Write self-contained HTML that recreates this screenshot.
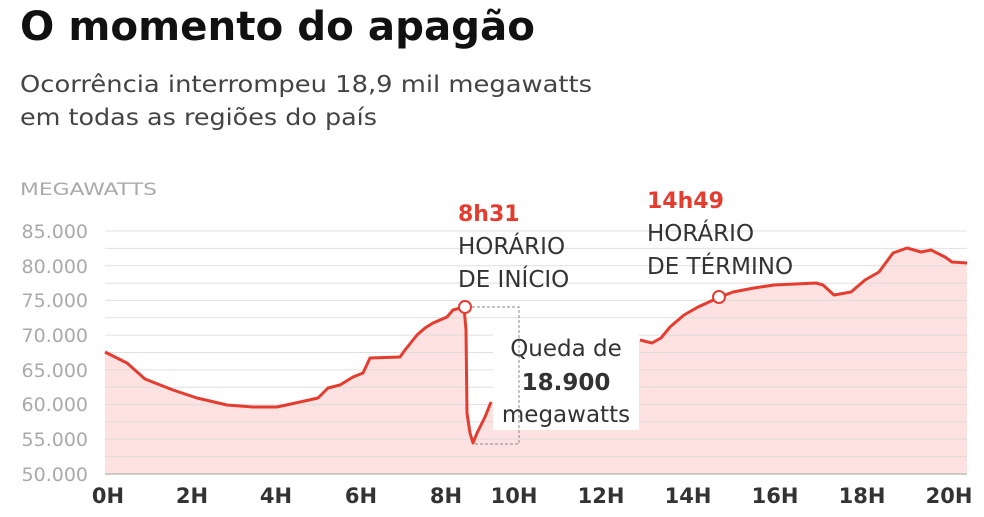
<!DOCTYPE html>
<html><head><meta charset="utf-8"><style>
body{margin:0;background:#fff;width:984px;height:512px;overflow:hidden}
</style></head><body>
<svg width="984" height="512" xmlns="http://www.w3.org/2000/svg" font-family="DejaVu Sans, Liberation Sans, sans-serif">
<text x="20" y="40" font-size="40" font-weight="bold" fill="#111" textLength="515" lengthAdjust="spacingAndGlyphs">O momento do apagão</text>
<text x="20" y="92" font-size="23" fill="#444" textLength="572" lengthAdjust="spacingAndGlyphs">Ocorrência interrompeu 18,9 mil megawatts</text>
<text x="20" y="125" font-size="23" fill="#444" textLength="357" lengthAdjust="spacingAndGlyphs">em todas as regiões do país</text>
<text x="20" y="195" font-size="17" fill="#aaa" textLength="137" lengthAdjust="spacingAndGlyphs">MEGAWATTS</text>
<g font-size="19" fill="#aaa" text-anchor="end">
<text x="88" y="238">85.000</text><text x="88" y="273">80.000</text><text x="88" y="307">75.000</text>
<text x="88" y="342">70.000</text><text x="88" y="377">65.000</text><text x="88" y="411">60.000</text>
<text x="88" y="446">55.000</text><text x="88" y="481">50.000</text>
</g>
<path d="M105,352 L127,363 L145,379 L173,390 L197,398 L227,405 L253,407 L277,407 L300,402 L318,398 L328,388 L340,385 L353,377 L363,373 L370,358 L400,357 L405,350 L417,335 L425,328 L433,323 L447,317 L453,310 L464,307 L466,330 L467,413 L470,433 L473,443 L477,433 L480,427 L485,417 L491,402 L640,340 L652,343 L661,338 L670,327 L684,315 L698,307 L720,297 L733,292 L754,288 L774,285 L816,283 L823,285 L834,295 L851,292 L865,280 L879,272 L893,253 L907,248 L921,252 L931,250 L945,257 L952,262 L967,263 L967,474 L105,474 Z" fill="#fde2e1"/>
<g stroke="#d8d8d8" stroke-width="1" opacity="0.8">
<line x1="105" x2="967" y1="231" y2="231"/><line x1="105" x2="967" y1="248.4" y2="248.4"/>
<line x1="105" x2="967" y1="265.7" y2="265.7"/><line x1="105" x2="967" y1="283.1" y2="283.1"/>
<line x1="105" x2="967" y1="300.4" y2="300.4"/><line x1="105" x2="967" y1="317.8" y2="317.8"/>
<line x1="105" x2="967" y1="335.1" y2="335.1"/><line x1="105" x2="967" y1="352.5" y2="352.5"/>
<line x1="105" x2="967" y1="369.9" y2="369.9"/><line x1="105" x2="967" y1="387.2" y2="387.2"/>
<line x1="105" x2="967" y1="404.6" y2="404.6"/><line x1="105" x2="967" y1="421.9" y2="421.9"/>
<line x1="105" x2="967" y1="439.3" y2="439.3"/><line x1="105" x2="967" y1="456.6" y2="456.6"/>
</g>
<line x1="105" x2="967" y1="474" y2="474" stroke="#bbb" stroke-width="1.5"/>
<rect x="493" y="330" width="146" height="100" fill="#fff"/>
<polyline points="467,307 519,307 519,444 474,444" fill="none" stroke="#888" stroke-width="1" stroke-dasharray="3,2"/>
<path d="M105,352 L127,363 L145,379 L173,390 L197,398 L227,405 L253,407 L277,407 L300,402 L318,398 L328,388 L340,385 L353,377 L363,373 L370,358 L400,357 L405,350 L417,335 L425,328 L433,323 L447,317 L453,310 L464,307 L466,330 L467,413 L470,433 L473,443 L477,433 L480,427 L485,417 L491,402" fill="none" stroke="#e43d30" stroke-width="3" stroke-linejoin="round"/>
<path d="M640,340 L652,343 L661,338 L670,327 L684,315 L698,307 L720,297 L733,292 L754,288 L774,285 L816,283 L823,285 L834,295 L851,292 L865,280 L879,272 L893,253 L907,248 L921,252 L931,250 L945,257 L952,262 L967,263" fill="none" stroke="#e43d30" stroke-width="3" stroke-linejoin="round"/>
<circle cx="465" cy="307" r="6" fill="#fff" stroke="#e43d30" stroke-width="2"/>
<circle cx="719" cy="297" r="6" fill="#fff" stroke="#e43d30" stroke-width="2"/>
<g font-size="23" fill="#333">
<text x="458" y="221" fill="#e43d30" font-weight="bold" font-size="22">8h31</text>
<text x="458" y="254">HORÁRIO</text><text x="458" y="287">DE INÍCIO</text>
<text x="647" y="208" fill="#e43d30" font-weight="bold" font-size="22">14h49</text>
<text x="647" y="241">HORÁRIO</text><text x="647" y="274">DE TÉRMINO</text>
<g text-anchor="middle"><text x="566" y="356">Queda de</text>
<text x="566" y="390" font-weight="bold">18.900</text>
<text x="566" y="422">megawatts</text></g>
</g>
<g font-size="21" font-weight="bold" fill="#333" text-anchor="middle">
<text x="108" y="503">0H</text><text x="192" y="503">2H</text><text x="276" y="503">4H</text>
<text x="361" y="503">6H</text><text x="446" y="503">8H</text><text x="514" y="503">10H</text>
<text x="601" y="503">12H</text><text x="688" y="503">14H</text><text x="775" y="503">16H</text>
<text x="862" y="503">18H</text><text x="949" y="503">20H</text>
</g>
</svg>
</body></html>
